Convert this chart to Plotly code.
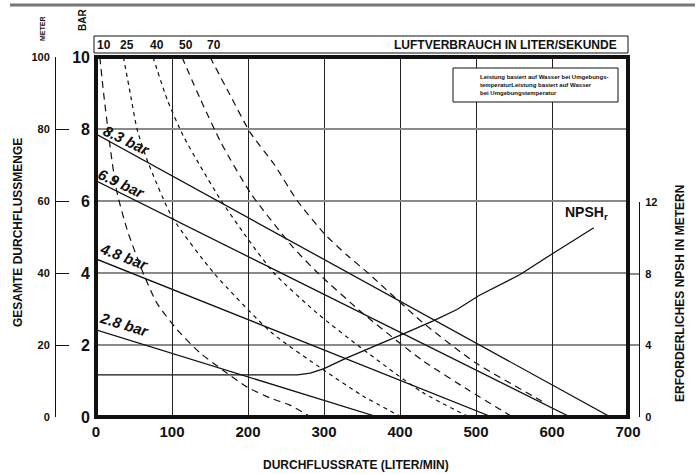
import plotly.graph_objects as go

# pressure lines (flow l/min -> head bar)
PRESSURE_LABELS = ["8.3 bar", "6.9 bar", "4.8 bar", "2.8 bar"]
PRESSURE_FLOW = [[0, 677], [0, 624], [0, 521], [0, 371]]
PRESSURE_HEAD = [[7.86, 0], [6.56, 0], [4.39, 0], [2.42, 0]]

# air consumption curves (l/s)
AIR_LABELS = ["10", "25", "40", "50", "70"]
AIR_FLOW = [
    [5, 10, 18, 27, 41, 62, 80, 107, 137, 167, 199, 229, 255, 283],
    [36, 45, 54, 68, 100, 155, 230, 300, 350, 402],
    [75, 94, 115, 138, 165, 198, 234, 290, 350, 429, 491],
    [113, 138, 165, 204, 259, 292, 350, 429, 490, 548],
    [150, 175, 203, 235, 264, 300, 330, 358, 429, 500, 584, 592],
]
AIR_HEAD = [
    [10, 9, 7.6, 6.3, 5.2, 4.0, 3.17, 2.42, 1.78, 1.3, 0.83, 0.53, 0.33, 0],
    [10, 9, 8, 7.1, 5.56, 4.0, 2.36, 1.3, 0.6, 0],
    [10, 8.8, 7.8, 6.94, 6.0, 5.0, 4.0, 2.9, 1.9, 0.69, 0],
    [10, 8.8, 7.6, 6.2, 4.72, 4.0, 2.9, 1.58, 0.75, 0],
    [10, 9, 7.9, 7.0, 6.03, 5.1, 4.5, 4.0, 2.64, 1.5, 0.47, 0.36],
]
AIR_DASH = ["7px,5px", "4px,4px", "4px,4px", "7px,5px", "7px,5px"]

# NPSH required (meter)
NPSH_FLOW = [0, 265, 282, 300, 330, 370, 406, 443, 475, 504, 535, 558, 600, 655]
NPSH_M = [2.35, 2.35, 2.45, 2.7, 3.3, 4.0, 4.67, 5.35, 6.0, 6.78, 7.44, 7.95, 9.1, 10.56]

X_TICKS = [0, 100, 200, 300, 400, 500, 600, 700]
BAR_TICKS = [0, 2, 4, 6, 8, 10]
METER_TICKS = [0, 20, 40, 60, 80, 100]
NPSH_TICKS = [0, 4, 8, 12]

W, H = 700, 474
_INK = "#111111"
_FONT = "Liberation Sans, Arial, sans-serif"


def px(x):
    return x / W


def py(y):
    return 1 - y / H


def text(x, y, s, size, xref="paper", yref="paper", angle=0, xanchor="center"):
    return dict(x=x, y=y, xref=xref, yref=yref, text=s, textangle=angle, showarrow=False,
                xanchor=xanchor, yanchor="middle", font=dict(size=size, color=_INK))


fig = go.Figure()

for fl, hd, dash in zip(AIR_FLOW, AIR_HEAD, AIR_DASH):
    fig.add_trace(go.Scatter(x=fl, y=hd, mode="lines",
                             line=dict(color=_INK, width=1.2, dash=dash, shape="spline", smoothing=0.6)))

for fl, hd in zip(PRESSURE_FLOW, PRESSURE_HEAD):
    fig.add_trace(go.Scatter(x=fl, y=hd, mode="lines", line=dict(color=_INK, width=1.3)))

fig.add_trace(go.Scatter(x=NPSH_FLOW, y=NPSH_M, mode="lines", yaxis="y2",
                         line=dict(color=_INK, width=1.3)))
# empty trace so the meter axis is drawn
fig.add_trace(go.Scatter(x=[None], y=[None], yaxis="y3"))

x0, x1 = px(96), px(628)
y0, y1 = py(417), py(57)

fig.update_layout(
    width=W, height=H, showlegend=False,
    paper_bgcolor="white", plot_bgcolor="rgba(0,0,0,0)",
    margin=dict(l=0, r=0, t=0, b=0, autoexpand=False),
    font=dict(family=_FONT, color=_INK),
    xaxis=dict(domain=[x0, x1], range=[0, 700], tickvals=X_TICKS,
               showgrid=True, gridcolor="#222222", gridwidth=1, zeroline=False,
               showline=False, ticks="", ticklabelstandoff=4,
               tickfont=dict(size=15, weight="bold")),
    yaxis=dict(domain=[y0, y1], range=[0, 10], tickvals=BAR_TICKS,
               showgrid=True, gridcolor="#8a8a8a", gridwidth=2, zeroline=False,
               showline=False, ticks="", ticklabelstandoff=5,
               tickfont=dict(size=16, weight="bold")),
    yaxis2=dict(domain=[y0, py(202)], range=[0, 12], tickvals=NPSH_TICKS,
                anchor="free", position=px(639), side="right",
                showgrid=False, zeroline=False, showline=True, linecolor=_INK, linewidth=1,
                ticks="inside", ticklen=11, tickcolor="#8a8a8a", tickwidth=2,
                ticklabelstandoff=3,
                tickfont=dict(size=11, weight="bold")),
    yaxis3=dict(domain=[y0, y1], range=[0, 100], tickvals=METER_TICKS,
                anchor="free", position=px(55), side="left", overlaying="y",
                showgrid=False, zeroline=False, showline=True, linecolor=_INK, linewidth=1,
                ticks="inside", ticklen=13, tickcolor=_INK, tickwidth=1,
                ticklabelstandoff=3,
                tickfont=dict(size=11, weight="bold")),
)

shapes = [
    # plot frame
    dict(type="rect", xref="paper", yref="paper", x0=x0, x1=x1, y0=y0, y1=y1,
         line=dict(color=_INK, width=4)),
    # air consumption banner
    dict(type="rect", xref="paper", yref="paper", x0=px(94), x1=px(628), y0=py(53), y1=py(36),
         line=dict(color=_INK, width=1)),
    # note box
    dict(type="rect", xref="paper", yref="paper", x0=px(453), x1=px(618), y0=py(102), y1=py(68),
         fillcolor="white", line=dict(color=_INK, width=1)),
    # top rule
    dict(type="line", xref="paper", yref="paper", x0=px(10), x1=px(695), y0=py(5), y1=py(5),
         line=dict(color="#777777", width=3)),
]
fig.update_layout(shapes=shapes)

ann = []
for lbl, fl in zip(AIR_LABELS, AIR_FLOW):
    ann.append(text(fl[0] + 5, py(45), f"<b>{lbl}</b>", 12, xref="x"))
ann.append(text(px(619), py(45), "<b>LUFTVERBRAUCH IN LITER/SEKUNDE</b>", 12, xanchor="right"))
note = dict(text(px(478), py(85),
                 "<b>Leistung basiert auf Wasser bei Umgebungs-<br>temperaturLeistung basiert auf Wasser"
                 "<br>bei Umgebungstemperatur</b>", 6, xanchor="left"), align="left")
ann.append(note)

label_pos = [(41, 7.69, 26), (34, 6.5, 25), (37, 4.47, 21), (38, 2.56, 17)]
for lbl, (lx, ly, ang) in zip(PRESSURE_LABELS, label_pos):
    ann.append(text(lx, ly, f"<b><i>{lbl}</i></b>", 15, xref="x", yref="y", angle=ang))
ann.append(text(646, 5.66, "<b>NPSH<sub>r</sub></b>", 14, xref="x", yref="y"))

ann += [
    text(px(42), py(29), "<b>METER</b>", 7, angle=-90),
    text(px(82), py(20), "<b>BAR</b>", 10, angle=-90),
    text(px(18), py(233), "<b>GESAMTE DURCHFLUSSMENGE</b>", 12, angle=-90),
    text(px(680), py(294), "<b>ERFORDERLICHES NPSH IN METERN</b>", 12, angle=-90),
    text(px(356), py(465), "<b>DURCHFLUSSRATE (LITER/MIN)</b>", 12),
]
fig.update_layout(annotations=ann)

# drop the default page margin so the figure sits at the window origin
fig.write_html("out.html", config={"displayModeBar": False},
               post_script="document.body.style.margin='0';")
